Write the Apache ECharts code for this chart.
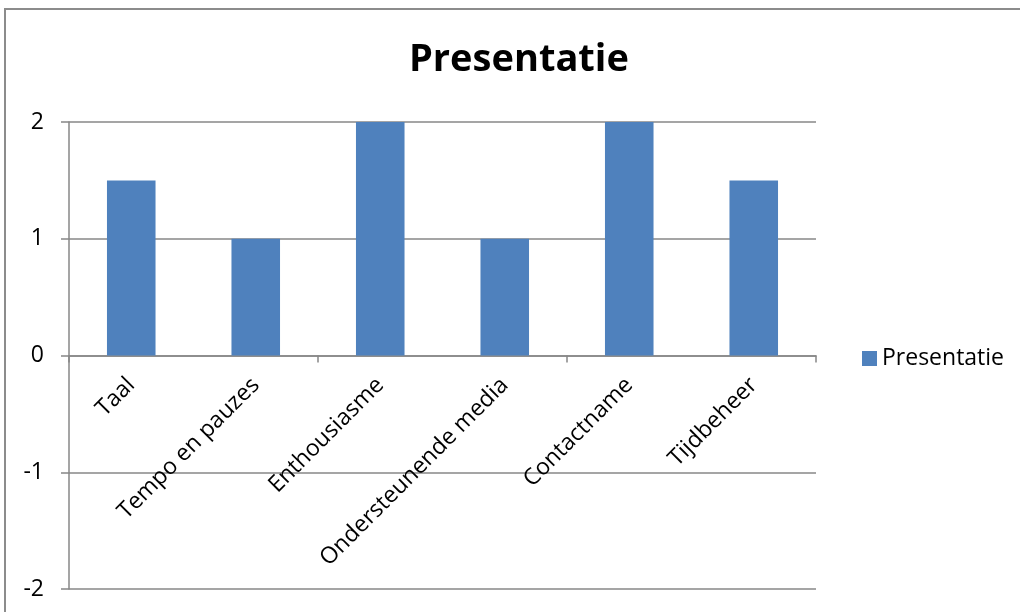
<!DOCTYPE html>
<html>
<head>
<meta charset="utf-8">
<script src="https://cdn.jsdelivr.net/npm/echarts@6/dist/echarts.min.js"></script>
<style>
  html, body { margin: 0; padding: 0; background: #fff; }
  #chart { width: 1020px; height: 612px; }
</style>
</head>
<body>
<div id="chart"></div>
<script>
// Chart data
const categories = ['Taal', 'Tempo en pauzes', 'Enthousiasme', 'Ondersteunende media', 'Contactname', 'Tijdbeheer'];
const seriesName = 'Presentatie';
const values = [1.5, 1, 2, 1, 2, 1.5];
const yMin = -2;
const yMax = 2;
const yStep = 1;

const FONT = '"Open Sans", sans-serif';
const GRAY = '#878787';

// plot box, in pixels
const plotTop = 122;
const plotBottom = 589;
// zero line sits in the middle of the value range
const zeroOffset = (plotBottom - plotTop) * (0 - yMin) / (yMax - yMin);

const chart = echarts.init(document.getElementById('chart'));

chart.setOption({
  animation: false,
  backgroundColor: '#fff',
  textStyle: { fontFamily: FONT },
  title: {
    text: 'Presentatie',
    left: 404,
    top: 36,
    textStyle: { fontSize: 38, fontWeight: 'bold', color: '#000', fontFamily: FONT }
  },
  graphic: [
    // outer chart frame
    {
      type: 'rect',
      shape: { x: 5, y: 9, width: 1100, height: 700 },
      style: { fill: 'none', stroke: '#8c8c8c', lineWidth: 2 },
      silent: true
    }
  ],
  legend: {
    data: [seriesName],
    orient: 'vertical',
    left: 857,
    top: 342,
    icon: 'rect',
    itemWidth: 15,
    itemHeight: 15,
    itemGap: 6,
    textStyle: { fontSize: 23, color: '#000', fontFamily: FONT }
  },
  grid: { left: 69, right: 204, top: plotTop, bottom: 612 - plotBottom, outerBoundsMode: 'none', containLabel: false },
  xAxis: [
    {
      type: 'category',
      data: categories,
      axisLine: { onZero: true, lineStyle: { color: GRAY, width: 1.5 } },
      axisTick: { show: true, length: 7, lineStyle: { color: GRAY, width: 1.5 } },
      axisLabel: { show: false },
      splitLine: { show: false }
    },
    {
      // label-only axis, lifted to the zero line
      type: 'category',
      data: categories,
      position: 'bottom',
      offset: -zeroOffset,
      axisLine: { show: false },
      axisTick: { show: false },
      axisLabel: { rotate: 45, margin: 26, fontSize: 23, color: '#000', interval: 0 },
      splitLine: { show: false }
    }
  ],
  yAxis: {
    type: 'value',
    min: yMin,
    max: yMax,
    interval: yStep,
    axisLine: { show: true, lineStyle: { color: GRAY, width: 1.5 } },
    axisTick: { show: true, length: 8, lineStyle: { color: GRAY, width: 1.5 } },
    axisLabel: { fontSize: 23, color: '#000', margin: 25 },
    splitLine: { show: true, lineStyle: { color: GRAY, width: 1.5 } }
  },
  series: [
    {
      name: seriesName,
      type: 'bar',
      data: values,
      barWidth: '39%',
      itemStyle: { color: '#4F81BD' }
    }
  ]
});
</script>
</body>
</html>
